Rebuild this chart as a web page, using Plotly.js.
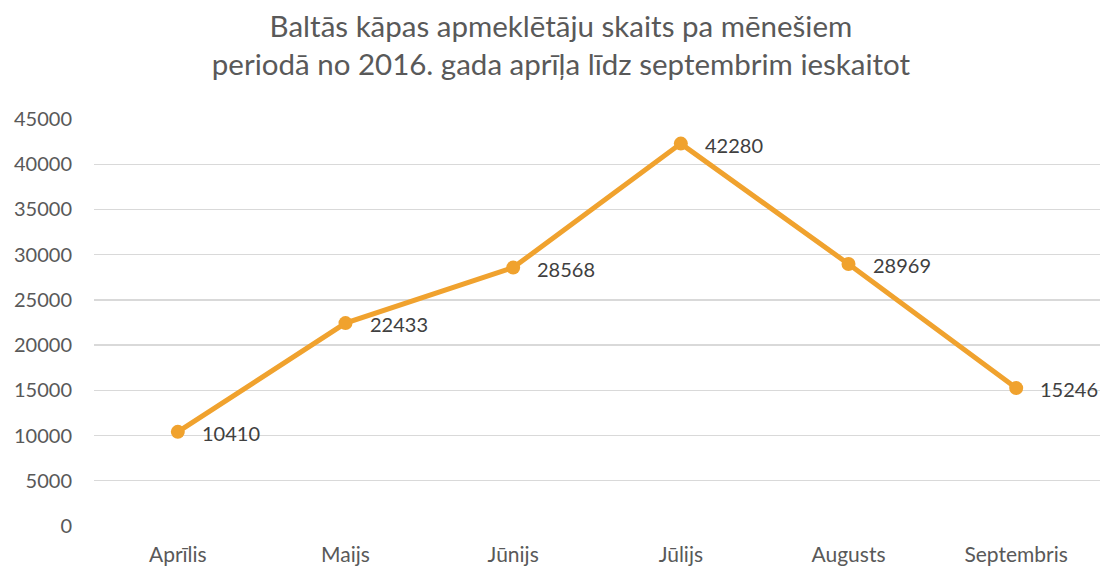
<!DOCTYPE html>
<html><head><meta charset="utf-8">
<script src="https://cdn.plot.ly/plotly-3.0.1.min.js"></script>
<style>html,body{margin:0;padding:0;background:#fff}#chart{width:1101px;height:566px}</style>
</head><body><div id="chart"></div>
<script>
const months = ['Aprīlis','Maijs','Jūnijs','Jūlijs','Augusts','Septembris'];
const visitors = [10410, 22433, 28568, 42280, 28969, 15246];
const yTicks = [0,5000,10000,15000,20000,25000,30000,35000,40000,45000];
const chartTitle = 'Baltās kāpas apmeklētāju skaits pa mēnešiem<br>periodā no 2016. gada aprīļa līdz septembrim ieskaitot';

const font = 'Lato, "Open Sans", sans-serif';
const trace = {
  x: months, y: visitors, type: 'scatter', mode: 'lines+markers',
  line: {color: '#F0A22E', width: 5},
  marker: {color: '#F0A22E', size: 14},
  cliponaxis: false, hoverinfo: 'none'
};
const labels = months.map((m, i) => ({
  x: m, y: visitors[i], xref: 'x', yref: 'y', text: String(visitors[i]),
  showarrow: false, xanchor: 'left', yanchor: 'middle', xshift: 22, yshift: -1,
  font: {family: font, size: 20, color: '#404040'}
}));
const layout = {
  width: 1101, height: 566,
  margin: {l: 94, r: 1, t: 119, b: 40},
  paper_bgcolor: '#fff', plot_bgcolor: '#fff',
  showlegend: false,
  title: {text: chartTitle, font: {family: font, size: 29.5, color: '#595959'},
          x: 0.5095, xref: 'container', xanchor: 'center', y: 0.935, yref: 'container', yanchor: 'top'},
  annotations: labels,
  xaxis: {type: 'category', range: [-0.5, 5.5], showgrid: false, zeroline: false,
          showline: false, ticks: 'outside', ticklen: 10, tickcolor: 'rgba(0,0,0,0)',
          tickfont: {family: font, size: 21, color: '#595959'}},
  yaxis: {range: [0, 45000], tickvals: yTicks, ticktext: yTicks.map(String),
          showgrid: true, gridcolor: '#D9D9D9', gridwidth: 1.3, zeroline: false,
          showline: false, ticks: 'outside', ticklen: 17, tickcolor: 'rgba(0,0,0,0)',
          tickfont: {family: font, size: 20, color: '#595959'}}
};
Plotly.newPlot('chart', [trace], layout, {displayModeBar: false, staticPlot: true});
</script></body></html>
